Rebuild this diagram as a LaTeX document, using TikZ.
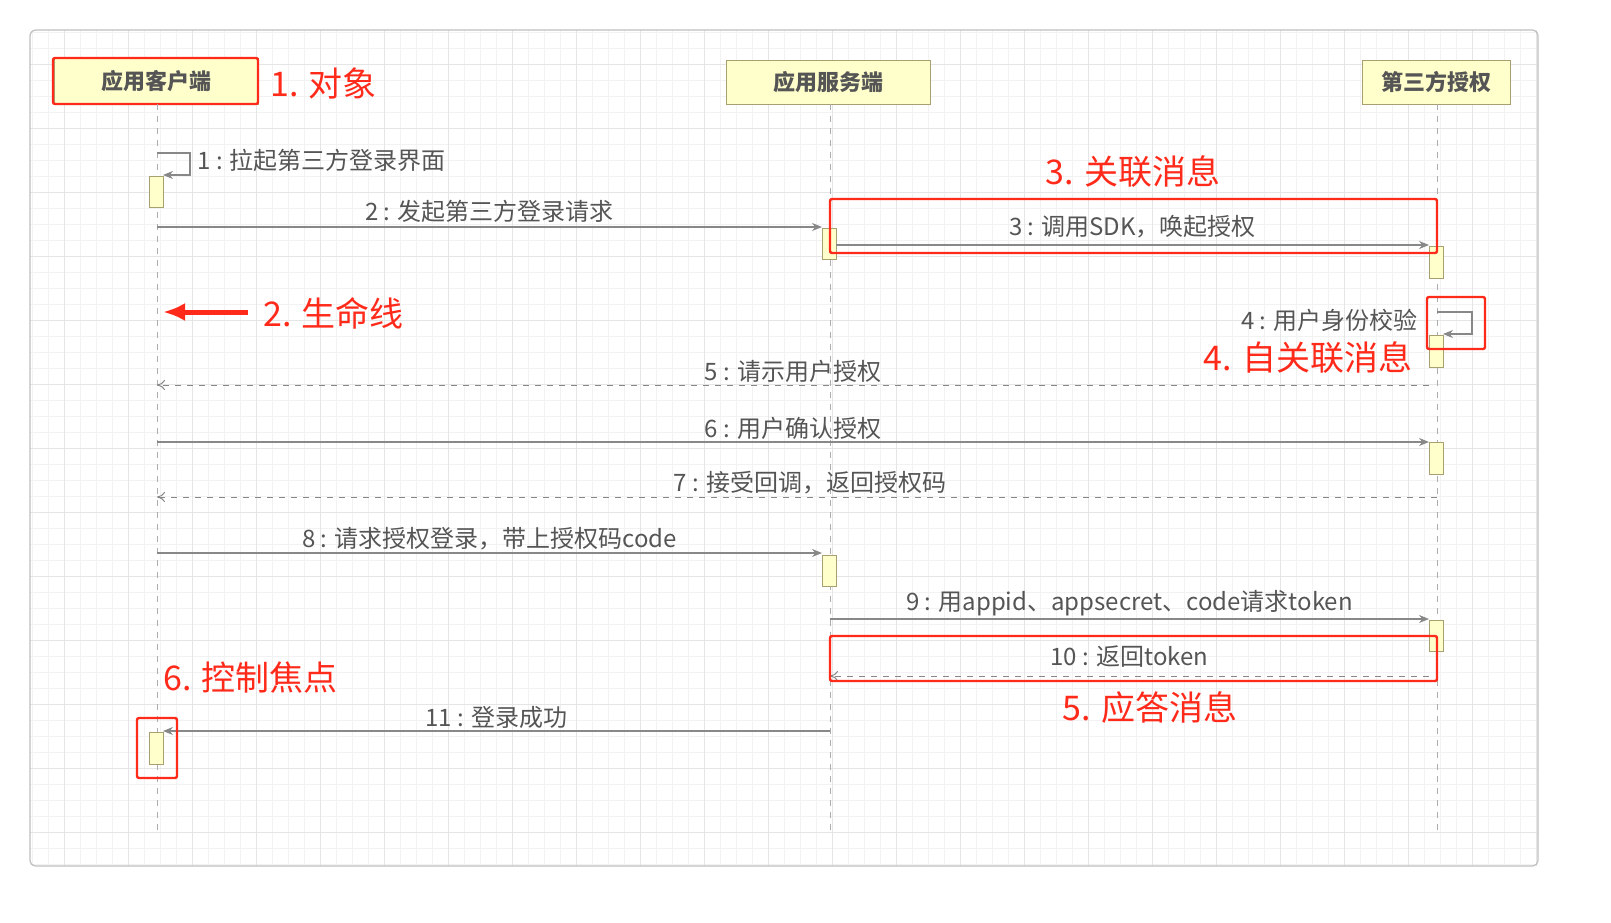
\documentclass[tikz,border=0pt]{standalone}
\usepackage{fontspec}
\newfontfamily\cjk{Noto Sans CJK SC}
\usetikzlibrary{arrows.meta}
\definecolor{txt}{HTML}{555555}
\definecolor{ln}{HTML}{888888}
\definecolor{boxfill}{HTML}{FFFFCC}
\definecolor{boxline}{HTML}{A8A070}
\definecolor{redc}{HTML}{FF2A1A}
\tikzset{
  head/.style={draw=boxline,fill=boxfill,font=\cjk\fontsize{11}{13}\selectfont\bfseries,text=txt,inner sep=0},
  act/.style={draw=boxline,fill=boxfill,line width=0.5pt},
  life/.style={draw=ln!70,dashed,line width=0.5pt},
  msg/.style={draw=ln,line width=0.6pt,-{Stealth[length=5pt,width=4pt]}},
  ret/.style={draw=ln,line width=0.5pt,dashed,-{To[length=4pt,width=5pt]}},
  lab/.style={font=\cjk\fontsize{12}{14}\selectfont,text=txt,inner sep=1pt},
  rlab/.style={font=\cjk\fontsize{17}{20}\selectfont,text=redc,inner sep=0},
  rbox/.style={draw=redc,line width=1.2pt,rounded corners=1pt}
}
\begin{document}
\begin{tikzpicture}[x=0.5pt,y=-0.5pt]
\useasboundingbox (0,0) rectangle (1611,922);
\fill[white] (0,0) rectangle (1611,922);
% frame and grid
\begin{scope}
\clip (30,30) rectangle (1538,866);
\draw[gray!10,line width=0.3pt,step=8pt] (30,30) grid (1538,866);
\draw[gray!20,line width=0.4pt,step=32pt] (30,30) grid (1538,866);
\end{scope}
\draw[gray!50,rounded corners=3pt,line width=0.6pt] (30,30) rectangle (1538,866);
% headers
\node[head,minimum width=102pt,minimum height=23pt] (hc) at (156,81) {应用客户端};
\node[head,minimum width=102pt,minimum height=22pt] (hs) at (828,82) {应用服务端};
\node[head,minimum width=74pt,minimum height=22pt] (ht) at (1436,82) {第三方授权};
\draw[rbox] (53,58) rectangle (258,104);
% lifelines
\coordinate (lc) at (157,835); \coordinate (ls) at (830,835); \coordinate (lt) at (1437,830);
\draw[life] (157,104) -- (lc);
\draw[life] (830,104) -- (ls);
\draw[life] (1437,104) -- (lt);
% activations
\draw[act] (149,176) rectangle (163,207);
\draw[act] (822,228) rectangle (836,259);
\draw[act] (1429,246) rectangle (1443,278);
\draw[act] (1429,335) rectangle (1443,367);
\draw[act] (1429,442) rectangle (1443,474);
\draw[act] (822,555) rectangle (836,586);
\draw[act] (1429,620) rectangle (1443,651);
\draw[act] (149,732) rectangle (163,764);
% messages
\coordinate (m1a) at (157,153); \coordinate (m1b) at (163,175);
\draw[msg] (m1a) -- (190,153) -- (190,175) -- (m1b);
\node[lab,anchor=west] at (195,160) {1 : 拉起第三方登录界面};
\coordinate (c2) at (157,227); \coordinate (s2) at (822,227);
\draw[msg] (c2) -- (s2) node[lab,midway,above=1pt] {2 : 发起第三方登录请求};
\coordinate (s3) at (836,245); \coordinate (t3) at (1429,245);
\draw[msg] (s3) -- (t3) node[lab,midway,above=2pt] {3 : 调用SDK，唤起授权};
\coordinate (t4a) at (1437,312); \coordinate (t4b) at (1443,334);
\draw[msg] (t4a) -- (1472,312) -- (1472,334) -- (t4b);
\node[lab,anchor=east] at (1420,320) {4 : 用户身份校验};
\coordinate (t5) at (1429,385); \coordinate (c5) at (157,385);
\draw[ret] (t5) -- (c5) node[lab,midway,above=0pt] {5 : 请示用户授权};
\coordinate (c6) at (157,442); \coordinate (t6) at (1429,442);
\draw[msg] (c6) -- (t6) node[lab,midway,above=0pt] {6 : 用户确认授权};
\coordinate (t7) at (1437,497); \coordinate (c7) at (157,497);
\draw[ret] (t7) -- (c7) node[lab,pos=0.49,above=0pt] {7 : 接受回调，返回授权码};
\coordinate (c8) at (157,553); \coordinate (s8) at (822,553);
\draw[msg] (c8) -- (s8) node[lab,midway,above=0pt] {8 : 请求授权登录，带上授权码code};
\coordinate (s9) at (830,619); \coordinate (t9) at (1429,619);
\draw[msg] (s9) -- (t9) node[lab,midway,above=0pt] {9 : 用appid、appsecret、code请求token};
\coordinate (t10) at (1429,676); \coordinate (s10) at (830,676);
\draw[ret] (t10) -- (s10) node[lab,midway,above=3pt] {10 : 返回token};
\coordinate (s11) at (830,731); \coordinate (c11) at (163,731);
\draw[msg] (s11) -- (c11) node[lab,midway,above=0pt] {11 : 登录成功};
% red annotations
\node[rlab,anchor=west] at (270,83) {1. 对象};
\coordinate (a2s) at (248,312); \coordinate (a2e) at (163,312);
\draw[redc,line width=2.5pt,-{Latex[length=11pt,width=9pt]}] (a2s) -- (a2e);
\node[rlab,anchor=west] at (263,313) {2. 生命线};
\draw[rbox] (830,199) rectangle (1437,253);
\node[rlab] at (1133,172) {3. 关联消息};
\draw[rbox] (1427,297) rectangle (1485,349);
\node[rlab] at (1308,358) {4. 自关联消息};
\draw[rbox] (830,636) rectangle (1437,681);
\node[rlab] at (1150,708) {5. 应答消息};
\node[rlab,anchor=west] at (163,678) {6. 控制焦点};
\draw[rbox] (137,718) rectangle (177,778);
\end{tikzpicture}
\end{document}
